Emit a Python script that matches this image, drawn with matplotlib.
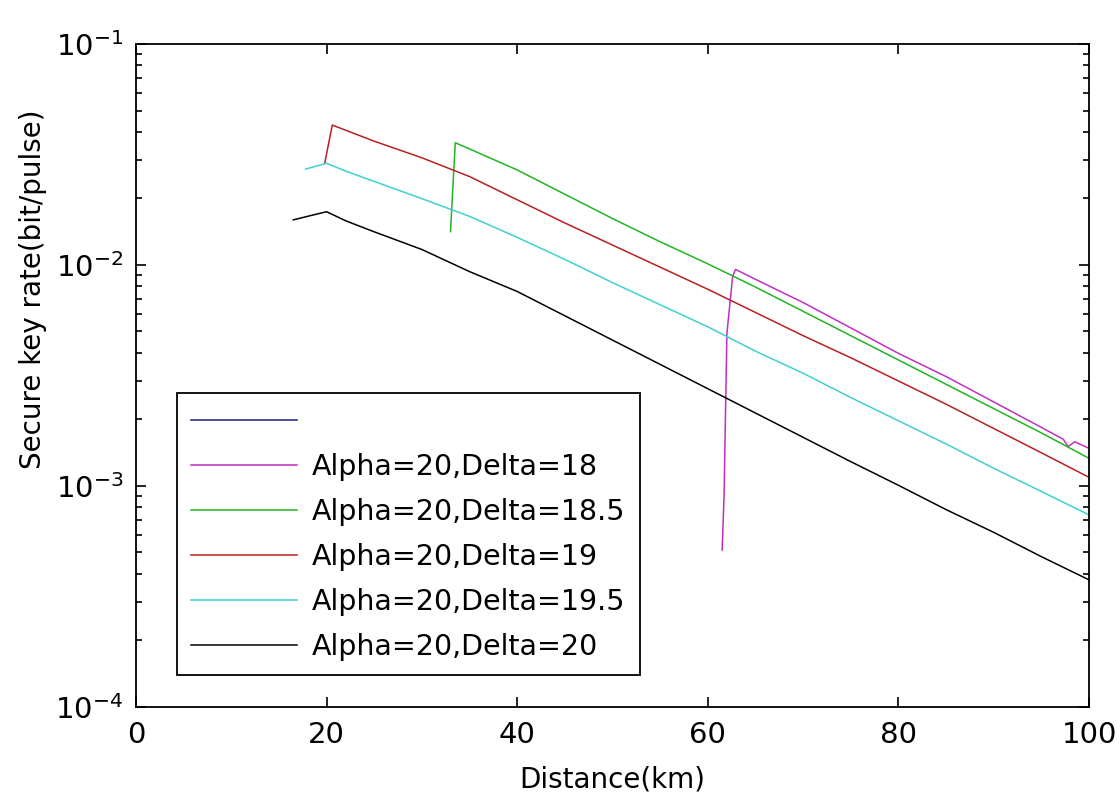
import numpy as np
import matplotlib
matplotlib.use("Agg")
from matplotlib import pyplot as plt
from matplotlib.lines import Line2D
from matplotlib.ticker import LogLocator, NullFormatter

plt.rcParams['font.family'] = ['DejaVu Sans']
plt.rcParams['mathtext.default'] = 'regular'

# values: distance (km) and log10 of key rate
d18_x = [61.5, 61.7, 62.0, 62.6, 62.9, 65, 70, 75, 80, 85, 90, 95, 97.3, 97.8, 98.5, 100]
d18_log = [-3.29, -3.05, -2.31, -2.053, -2.02, -2.065, -2.17, -2.285, -2.40, -2.505,
           -2.62, -2.735, -2.789, -2.822, -2.80, -2.83]

d185_x = [33.0, 33.5, 35, 40, 45, 50, 55, 60, 65, 70, 75, 80, 85, 90, 95, 100]
d185_log = [-1.849, -1.447, -1.475, -1.57, -1.68, -1.79, -1.895, -1.995, -2.10, -2.21,
            -2.32, -2.43, -2.54, -2.65, -2.76, -2.875]

d19_x = [19.8, 20.6, 25, 30, 35, 40, 45, 50, 55, 60, 65, 70, 75, 80, 85, 90, 95, 100]
d19_log = [-1.54, -1.367, -1.44, -1.515, -1.60, -1.705, -1.81, -1.91, -2.01, -2.11,
           -2.215, -2.32, -2.42, -2.525, -2.63, -2.74, -2.85, -2.961]

d195_x = [17.8, 20, 22, 25, 30, 35, 40, 45, 50, 55, 60, 65, 70, 75, 80, 85, 90, 95, 100]
d195_log = [-1.566, -1.54, -1.575, -1.622, -1.70, -1.78, -1.875, -1.975, -2.08, -2.18,
            -2.28, -2.39, -2.49, -2.60, -2.705, -2.81, -2.92, -3.025, -3.131]

d20_x = [16.5, 18, 20, 22, 25, 30, 35, 40, 45, 50, 55, 60, 65, 70, 75, 80, 85, 90, 95, 100]
d20_log = [-1.796, -1.78, -1.759, -1.80, -1.85, -1.93, -2.03, -2.12, -2.23, -2.34, -2.45,
           -2.56, -2.67, -2.78, -2.89, -2.997, -3.107, -3.21, -3.32, -3.425]

labels = [' ', 'Alpha=20,Delta=18', 'Alpha=20,Delta=18.5', 'Alpha=20,Delta=19',
          'Alpha=20,Delta=19.5', 'Alpha=20,Delta=20']
colors = ['#1a1a80', '#c030c0', '#22b422', '#b82020', '#40d0d0', 'black']

fig = plt.figure(figsize=(11.2, 8.01), dpi=100)
ax = fig.add_axes([0.1214, 0.1174, 0.851, 0.8277])

series = [(d18_x, d18_log), (d185_x, d185_log), (d19_x, d19_log),
          (d195_x, d195_log), (d20_x, d20_log)]

handles = [Line2D([], [], color=colors[0], lw=1.1)]
for (xs, logs), c in zip(series, colors[1:]):
    line, = ax.plot(xs, 10 ** np.array(logs), color=c, lw=1.1)
    handles.append(line)

ax.set_yscale('log')
ax.set_xlim(0, 100)
ax.set_ylim(1e-4, 1e-1)
ax.set_xticks([0, 20, 40, 60, 80, 100])
ax.yaxis.set_major_locator(LogLocator(base=10, numticks=10))
ax.yaxis.set_minor_locator(LogLocator(base=10, subs=np.arange(2, 10), numticks=20))
ax.yaxis.set_minor_formatter(NullFormatter())

ax.tick_params(which='both', direction='in', top=True, right=True, labelsize=21, width=1.2)
ax.tick_params(which='major', length=7.5)
ax.tick_params(which='minor', length=4.3)
ax.tick_params(axis='x', which='major', pad=10)
ax.tick_params(axis='y', which='major', pad=9)
for s in ax.spines.values():
    s.set_linewidth(1.3)

ax.set_xlabel('Distance(km)', fontsize=20, labelpad=12)
ax.set_ylabel('Secure key rate(bit/pulse)', fontsize=20)
ax.yaxis.set_label_coords(-0.093, 0.63)

leg = ax.legend(handles, labels, loc='lower left', bbox_to_anchor=(0.043, 0.048),
                borderaxespad=0, fontsize=20.5, handlelength=3.7, handletextpad=0.55,
                labelspacing=0.6, borderpad=0.5, fancybox=False, framealpha=1)
leg.get_frame().set_edgecolor('black')
leg.get_frame().set_linewidth(1.3)

fig.savefig('out.png', dpi=100)
